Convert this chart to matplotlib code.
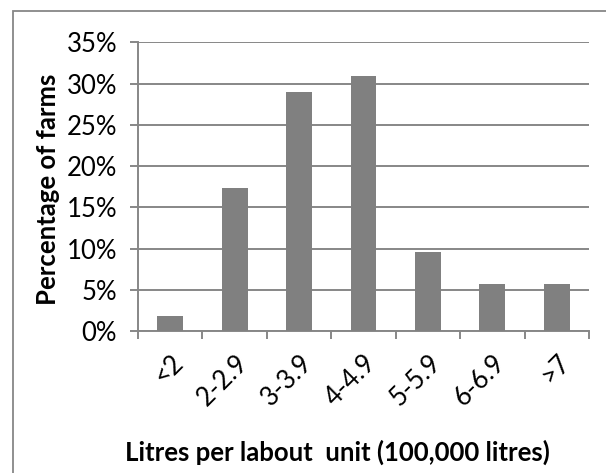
import numpy as np
import matplotlib
matplotlib.use('Agg')
import matplotlib.pyplot as plt
import matplotlib.transforms as mtransforms
from matplotlib.patches import Rectangle
from matplotlib.ticker import FuncFormatter, FixedLocator

#---------------------- DATA
categories = ['<2', '2-2.9', '3-3.9', '4-4.9', '5-5.9', '6-6.9', '>7']
pct_farms  = [1.85, 17.3, 29.0, 30.9, 9.6, 5.7, 5.7]
yticks     = [0, 5, 10, 15, 20, 25, 30, 35]

plt.rcParams['font.family'] = ['Lato', 'DejaVu Sans']
grey = '#878787'

fig = plt.figure(figsize=(6.06, 4.73), dpi=100)

# outer chart-area border (runs past right/bottom edge)
fig.patches.append(Rectangle((12.7/606, -0.05), 1.2, 1 - 11/473 + 0.05,
                             transform=fig.transFigure, fill=False,
                             edgecolor=grey, linewidth=1.3))

ax = fig.add_axes([138/606, 1 - 331/473, (589-138)/606, (331-42.3)/473])

x = np.arange(len(categories))
ax.bar(x, pct_farms, width=0.40, color='#808080', zorder=3)

ax.set_xlim(-0.5, len(categories) - 0.5)
ax.set_ylim(0, 35)
ax.set_yticks(yticks)
ax.yaxis.set_major_formatter(FuncFormatter(lambda v, p: '%d%%' % v))
ax.yaxis.grid(True, color=grey, linewidth=1.4, zorder=0)

for s in ['top', 'right']:
    ax.spines[s].set_visible(False)
for s in ['left', 'bottom']:
    ax.spines[s].set_color(grey)
    ax.spines[s].set_linewidth(1.4)

ax.tick_params(axis='y', length=6, width=1.4, color=grey, pad=9, labelsize=18.5)

# category labels at centres, tick marks on boundaries
ax.set_xticks(x)
ax.set_xticklabels(categories, fontsize=18.5, rotation=45, ha='right',
                   va='center', rotation_mode='anchor')
ax.tick_params(axis='x', which='major', length=0, pad=20)
ax.xaxis.set_minor_locator(FixedLocator(np.arange(-0.5, len(categories), 1.0)))
ax.tick_params(axis='x', which='minor', length=6, width=1.4, color=grey)

offset = mtransforms.ScaledTranslation(9/100, 0, fig.dpi_scale_trans)
for lab in ax.get_xticklabels():
    lab.set_transform(lab.get_transform() + offset)

fig.text(48/606, 1 - 189/473, 'Percentage of farms', rotation=90,
         ha='center', va='center', fontsize=18.5, fontweight='bold')
fig.text(337/606, 1 - 452/473, 'Litres per labout  unit (100,000 litres)',
         ha='center', va='center', fontsize=18.5, fontweight='bold')

plt.savefig('out.png', dpi=100)
